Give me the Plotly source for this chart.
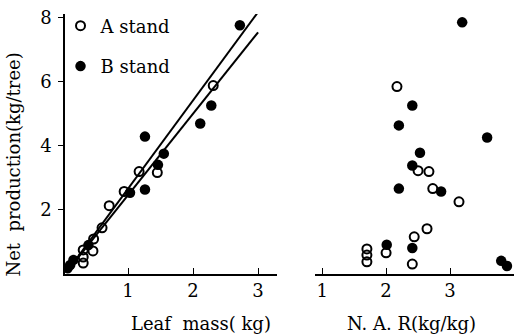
import plotly.graph_objects as go

# Left panel: net production vs leaf mass
a_leaf = [2.31, 1.45, 1.17, 0.94, 0.71, 0.60, 0.47, 0.46, 0.31, 0.31, 0.31]
a_prod = [5.87, 3.16, 3.19, 2.57, 2.13, 1.44, 1.09, 0.72, 0.75, 0.53, 0.34]
b_leaf = [2.72, 2.28, 2.11, 1.26, 1.55, 1.46, 1.26, 1.03, 0.39, 0.16, 0.11, 0.07]
b_prod = [7.75, 5.25, 4.69, 4.28, 3.75, 3.40, 2.63, 2.53, 0.90, 0.44, 0.28, 0.18]

# Regression lines (endpoints)
line1_x = [0.07, 3.0]
line1_y = [0.10, 8.16]
line2_x = [0.07, 3.0]
line2_y = [0.10, 7.53]

# Right panel: net production vs N.A.R
a_nar = [2.17, 2.50, 2.67, 2.73, 3.14, 2.64, 2.44, 2.00, 2.41, 1.70, 1.70, 1.70]
a_prod2 = [5.84, 3.22, 3.19, 2.66, 2.25, 1.41, 1.16, 0.66, 0.31, 0.78, 0.59, 0.38]
b_nar = [3.19, 2.41, 2.20, 3.58, 2.53, 2.41, 2.20, 2.86, 2.01, 2.41, 3.80, 3.89]
b_prod2 = [7.84, 5.25, 4.63, 4.25, 3.78, 3.38, 2.66, 2.57, 0.91, 0.81, 0.41, 0.25]

left_ticks = [1, 2, 3]
right_ticks = [1, 2, 3, 4]
y_ticks = [2, 4, 6, 8]

FONT = "DejaVu Serif"
open_marker = dict(symbol="circle-open", size=9, color="black", line=dict(width=2, color="black"))
fill_marker = dict(symbol="circle", size=10.5, color="black")

fig = go.Figure()
fig.add_trace(go.Scatter(x=a_leaf, y=a_prod, mode="markers", marker=open_marker,
                         name="A stand", legendgroup="a", xaxis="x", yaxis="y"))
fig.add_trace(go.Scatter(x=b_leaf, y=b_prod, mode="markers", marker=fill_marker,
                         name="B stand", legendgroup="b", xaxis="x", yaxis="y"))
fig.add_trace(go.Scatter(x=line1_x, y=line1_y, mode="lines", line=dict(color="black", width=2),
                         showlegend=False, xaxis="x", yaxis="y"))
fig.add_trace(go.Scatter(x=line2_x, y=line2_y, mode="lines", line=dict(color="black", width=2),
                         showlegend=False, xaxis="x", yaxis="y"))
fig.add_trace(go.Scatter(x=a_nar, y=a_prod2, mode="markers", marker=open_marker,
                         showlegend=False, xaxis="x2", yaxis="y2"))
fig.add_trace(go.Scatter(x=b_nar, y=b_prod2, mode="markers", marker=fill_marker,
                         showlegend=False, xaxis="x2", yaxis="y2"))

axis_common = dict(showgrid=False, zeroline=False, showline=True, linecolor="black", linewidth=1.5,
                   tickcolor="black", tickfont=dict(family=FONT, size=18, color="black"))

fig.update_layout(
    width=516, height=334,
    margin=dict(l=65, r=2, t=14, b=60),
    paper_bgcolor="white", plot_bgcolor="white",
    font=dict(family=FONT, color="black"),
    xaxis=dict(domain=[0, 0.472], range=[0.03, 3.29], tickvals=left_ticks,
               ticks="inside", ticklen=6, **axis_common),
    yaxis=dict(domain=[0, 1], range=[0, 8.1], tickvals=y_ticks,
               ticks="outside", ticklen=5, ticklabelstandoff=3, **axis_common),
    xaxis2=dict(domain=[0.557, 1], range=[0.89, 4.0], tickvals=right_ticks,
                ticks="inside", ticklen=6, anchor="y2", **axis_common),
    yaxis2=dict(domain=[0, 1], range=[0, 8.1], anchor="x2", visible=False),
    legend=dict(x=-0.01, y=1.025, xanchor="left", yanchor="top", bgcolor="rgba(0,0,0,0)",
                font=dict(family=FONT, size=18, color="black"), itemwidth=30, tracegroupgap=14),
    showlegend=True,
    annotations=[
        dict(text="Leaf  mass( kg)", xref="paper", yref="paper", x=0.303, y=-0.19,
             showarrow=False, font=dict(family=FONT, size=18), xanchor="center", yanchor="middle"),
        dict(text="N. A. R(kg/kg)", xref="paper", yref="paper", x=0.772, y=-0.19,
             showarrow=False, font=dict(family=FONT, size=18), xanchor="center", yanchor="middle"),
        dict(text="Net  production(kg/tree)", xref="paper", yref="paper", x=-0.114, y=0.42,
             textangle=-90, showarrow=False, font=dict(family=FONT, size=18),
             xanchor="center", yanchor="middle"),
    ],
)

fig.write_html("out.html")
